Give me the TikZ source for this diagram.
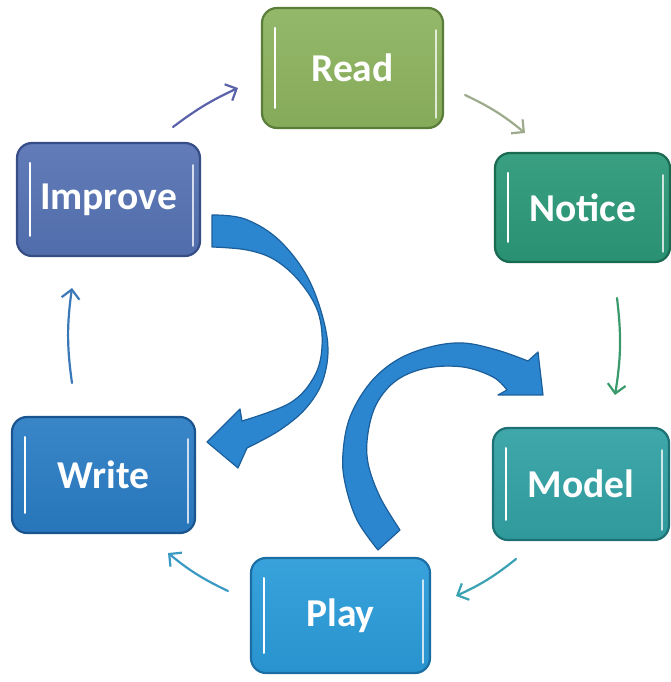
\documentclass[tikz,border=0pt]{standalone}
\usepackage{fontspec}
\setmainfont{Carlito}
\usetikzlibrary{arrows.meta}
\definecolor{readF}{HTML}{8CB35E}
\definecolor{readB}{HTML}{5A7D3A}
\definecolor{notF}{HTML}{2B9878}
\definecolor{notB}{HTML}{1A6A52}
\definecolor{modF}{HTML}{31A1A4}
\definecolor{modB}{HTML}{1D7073}
\definecolor{playF}{HTML}{2A9BD9}
\definecolor{playB}{HTML}{1B6EA3}
\definecolor{writeF}{HTML}{2A7CC4}
\definecolor{writeB}{HTML}{1A548F}
\definecolor{impF}{HTML}{5572B3}
\definecolor{impB}{HTML}{364D86}
\definecolor{bigF}{HTML}{2B86CF}
\definecolor{bigB}{HTML}{1B5E9A}
\definecolor{cA}{HTML}{5A62AA}
\definecolor{cB}{HTML}{9DAA8C}
\definecolor{cC}{HTML}{3A9A6C}
\definecolor{cD}{HTML}{3AA2B2}
\definecolor{cE}{HTML}{3A9AC4}
\definecolor{cF}{HTML}{3A78B8}
\begin{document}
\begin{tikzpicture}[x=1pt,y=1pt,
  box/.style 2 args={rounded corners=15pt, top color=#1!93!white, bottom color=#1!95!black,
    draw=#2, line width=2.2pt, minimum width=180pt, minimum height=114pt,
    inner sep=0pt, text=white, font=\fontsize{39.5}{42}\selectfont\bfseries,
    path picture={
      \draw[white, line width=2pt, line cap=round]
        ([xshift=13pt,yshift=-20pt]path picture bounding box.north west) --
        ([xshift=13pt,yshift=20pt]path picture bounding box.south west);
      \draw[white, opacity=0.75, line width=1.5pt, line cap=round]
        ([xshift=-7pt,yshift=-22pt]path picture bounding box.north east) --
        ([xshift=-7pt,yshift=10pt]path picture bounding box.south east);
    }},
  conn/.style={draw=#1, line width=2.2pt, line cap=round,
    -{Straight Barb[length=9pt,width=18pt]}},
  big/.style={fill=bigF, draw=bigB, line width=1.2pt, line join=round}]
\useasboundingbox (0,0) rectangle (671,682);

% boxes
\node[box={readF}{readB}, minimum width=181pt, minimum height=120pt] (read) at (352.5,614) {Read};
\node[box={notF}{notB}, minimum width=175pt, minimum height=109pt] (notice) at (582.5,474.5) {Notice};
\node[box={modF}{modB}, minimum width=176pt, minimum height=112pt] (model) at (581,198) {Model};
\node[box={playF}{playB}, minimum width=179pt, minimum height=115pt] (play) at (340.5,66.5) {Play};
\node[box={writeF}{writeB}, minimum width=183pt, minimum height=116pt] (write) at (103.5,207) {Write};
\node[box={impF}{impB}, minimum width=183pt, minimum height=113pt] (improve) at (108.5,482.5) {Improve};

% thin connectors
\coordinate (a1s) at (173,555); \coordinate (a1e) at (238,594);
\coordinate (a2s) at (465,587); \coordinate (a2e) at (525,549);
\coordinate (a3s) at (617,384); \coordinate (a3e) at (615,287);
\coordinate (a4s) at (516,123); \coordinate (a4e) at (456,86);
\coordinate (a5s) at (228,91);  \coordinate (a5e) at (168,129);
\coordinate (a6s) at (72,299);  \coordinate (a6e) at (72,394);
\draw[conn=cA] (a1s) to[bend left=6] (a1e);
\draw[conn=cB] (a2s) to[bend left=7] (a2e);
\draw[conn=cC] (a3s) to[bend left=8] (a3e);
\draw[conn=cD] (a4s) to[bend left=7] (a4e);
\draw[conn=cE] (a5s) to[bend left=7] (a5e);
\draw[conn=cF] (a6s) to[bend left=8] (a6e);

% big arrow Improve -> Write
\draw[big] plot[smooth, tension=0.6] coordinates {(212,467) (245,463) (280,441) (310,400) (327,345) (324,305) (307,275) (280,252) (247,234)}
  -- (238,214) -- (207,240) -- (240,273) -- (242,261)
  -- plot[smooth, tension=0.6] coordinates {(242,261) (290,279) (314,305) (322,335) (318,370) (300,400) (275,422) (247,432) (212,435)}
  -- cycle;

% big arrow Play -> Model
\draw[big] plot[smooth, tension=0.6] coordinates {(378,132) (357,162) (345,199) (343,229) (350,265) (370,299) (397,322) (430,335) (463,339) (497,332) (528,321)}
  -- (538,330) -- (543,287) -- (498,287) -- (507,292)
  -- plot[smooth, tension=0.6] coordinates {(507,292) (493,305) (463,315) (427,314) (397,302) (377,279) (368,249) (368,219) (380,185) (400,152)}
  -- cycle;
\end{tikzpicture}
\end{document}
